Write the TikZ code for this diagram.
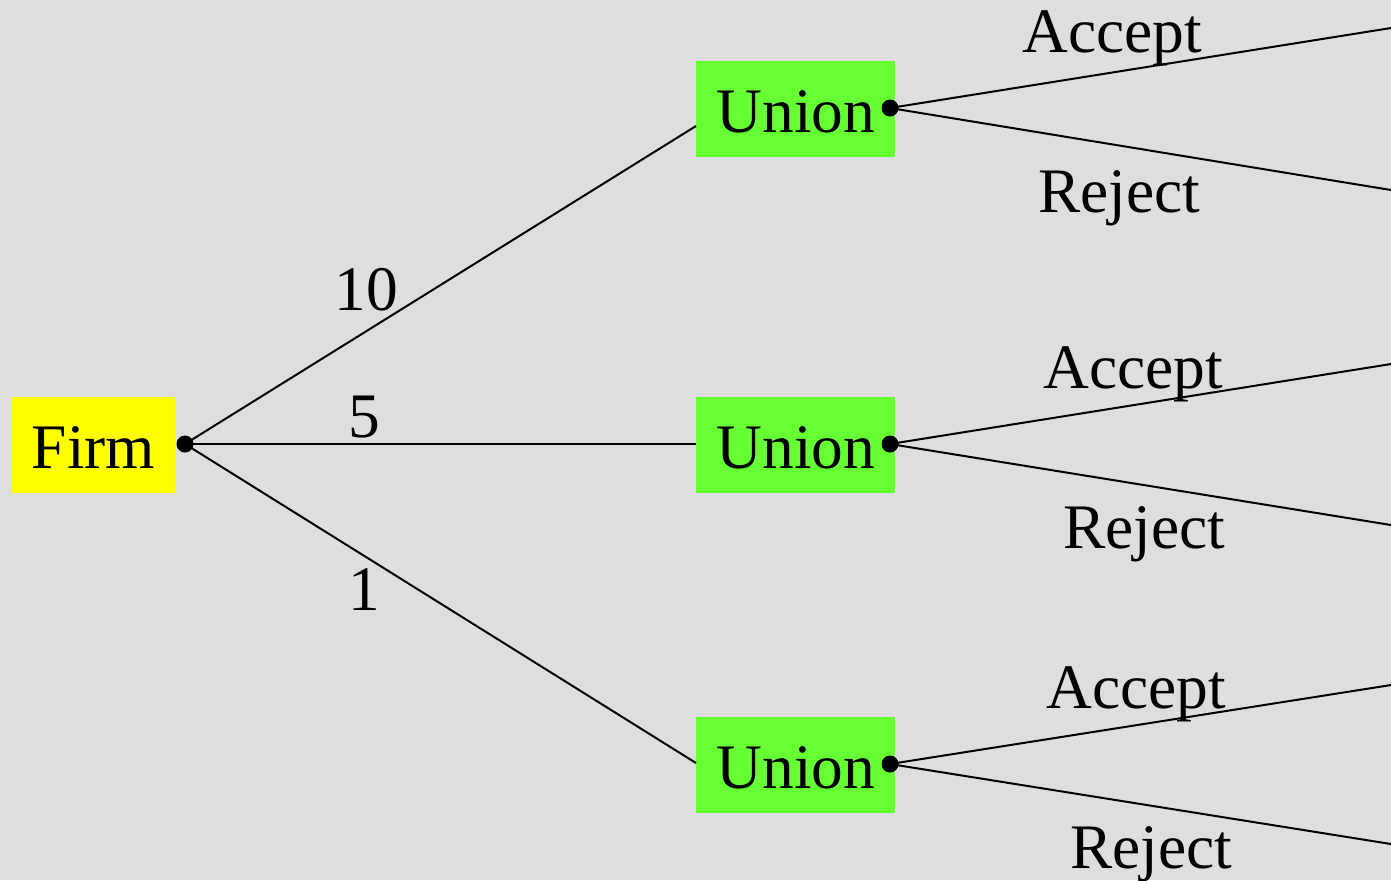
\documentclass[tikz,border=0pt]{standalone}
\usepackage{fontspec}
\setmainfont{Liberation Serif}
\definecolor{bgray}{HTML}{DEDEDE}
\definecolor{firmyellow}{HTML}{FFFF00}
\definecolor{uniongreen}{HTML}{66FF33}
\begin{document}
\begin{tikzpicture}[x=0.5pt,y=-0.5pt,
  player/.style={rectangle, inner sep=0pt, minimum height=48pt,
    font=\fontsize{31.7}{36}\selectfont},
  firmbox/.style={player, fill=firmyellow, minimum width=81.5pt},
  unionbox/.style={player, fill=uniongreen, minimum width=99.5pt},
  dot/.style={circle, fill=black, inner sep=0pt, minimum size=8.5pt},
  lbl/.style={anchor=base, inner sep=0pt, font=\fontsize{31.7}{36}\selectfont},
  edge/.style={draw=black, line width=1pt}]
  % background and page size
  \fill[bgray] (0,0) rectangle (1391,880);
  \useasboundingbox (0,0) rectangle (1391,880);

  % players (boxes, with the name set on its own baseline)
  \node[firmbox] (firm) at (93.5,445) {};
  \node[unionbox] (u1) at (795.5,109) {};
  \node[unionbox] (u2) at (795.5,445) {};
  \node[unionbox] (u3) at (795.5,765) {};
  \node[lbl] (firmname) at (93.5,468) {Firm};
  \node[lbl] (u1name) at (796,132) {Union};
  \node[lbl] (u2name) at (796,468) {Union};
  \node[lbl] (u3name) at (796,788) {Union};

  % decision points
  \node[dot] (f) at (185,444) {};
  \node[dot] (d1) at (890,108) {};
  \node[dot] (d2) at (890,444) {};
  \node[dot] (d3) at (890,764) {};

  % where the firm's offers meet the union boxes
  \coordinate (in1) at (696,126);
  \coordinate (in2) at (696,444);
  \coordinate (in3) at (696,763);

  % terminal ends of the union's choices
  \coordinate (a1) at (1391,28);
  \coordinate (r1) at (1391,190);
  \coordinate (a2) at (1391,364);
  \coordinate (r2) at (1391,525);
  \coordinate (a3) at (1391,685);
  \coordinate (r3) at (1391,844);

  % firm's offers
  \draw[edge] (f.center) -- (in1);
  \draw[edge] (f.center) -- (in2);
  \draw[edge] (f.center) -- (in3);

  % union's responses
  \foreach \i in {1,2,3} {
    \draw[edge] (d\i.center) -- (a\i);
    \draw[edge] (d\i.center) -- (r\i);
  }

  % offer labels
  \node[lbl] (o10) at (366,310) {10};
  \node[lbl] (o5) at (364,437) {5};
  \node[lbl] (o1) at (364,610) {1};

  % response labels
  \node[lbl] (acc1) at (1112,52) {Accept};
  \node[lbl] (rej1) at (1119,212) {Reject};
  \node[lbl] (acc2) at (1133,388) {Accept};
  \node[lbl] (rej2) at (1144,548) {Reject};
  \node[lbl] (acc3) at (1136,708) {Accept};
  \node[lbl] (rej3) at (1151,868) {Reject};
\end{tikzpicture}
\end{document}
